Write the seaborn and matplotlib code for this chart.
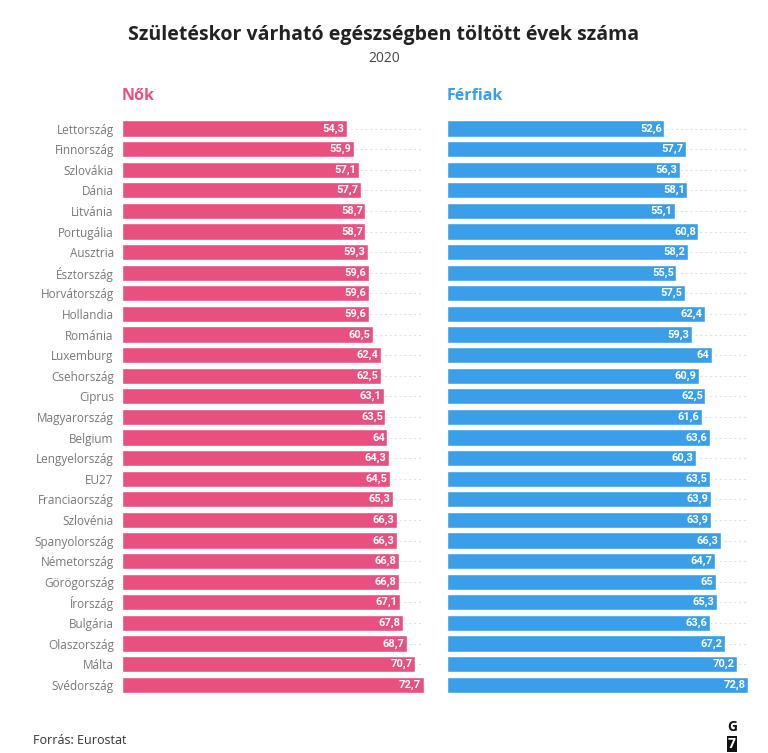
import matplotlib
matplotlib.use("Agg")
import matplotlib.pyplot as plt
import seaborn as sns
import pandas as pd

countries = ["Lettország","Finnország","Szlovákia","Dánia","Litvánia","Portugália","Ausztria",
             "Észtország","Horvátország","Hollandia","Románia","Luxemburg","Csehország","Ciprus",
             "Magyarország","Belgium","Lengyelország","EU27","Franciaország","Szlovénia",
             "Spanyolország","Németország","Görögország","Írország","Bulgária","Olaszország",
             "Málta","Svédország"]
women = [54.3,55.9,57.1,57.7,58.7,58.7,59.3,59.6,59.6,59.6,60.5,62.4,62.5,63.1,63.5,64,64.3,
         64.5,65.3,66.3,66.3,66.8,66.8,67.1,67.8,68.7,70.7,72.7]
men = [52.6,57.7,56.3,58.1,55.1,60.8,58.2,55.5,57.5,62.4,59.3,64,60.9,62.5,61.6,63.6,60.3,
       63.5,63.9,63.9,66.3,64.7,65,65.3,63.6,67.2,70.2,72.8]

df = pd.DataFrame({"country": countries, "women": women, "men": men})
sns.set_theme(style="white")
plt.rcParams['font.family'] = ['Open Sans', 'DejaVu Sans']

fig = plt.figure(figsize=(7.68, 7.53), dpi=100)
axL = fig.add_axes([0.159, 0.077, 0.393, 0.766])
axR = fig.add_axes([0.582, 0.077, 0.392, 0.766])

def fmt(v):
    s = f"{v:g}"
    return s.replace(".", ",")

for ax, col, color, name in [(axL, "women", "#E8507F", "Nők"), (axR, "men", "#3A9EE8", "Férfiak")]:
    sns.barplot(data=df, x=col, y="country", ax=ax, color=color, width=0.78, saturation=1, orient="h")
    ax.set_xlim(0, 72.8)
    ax.set_ylim(len(countries) - 0.5, -0.5)
    for i, v in enumerate(df[col]):
        ax.hlines(i, 0, 72.8, colors="#dddddd", linestyles=(0, (2, 3)), lw=0.7, zorder=0)
        ax.text(v - 0.6, i, fmt(v), ha="right", va="center", color="white",
                fontsize=8, fontweight="bold", family="Roboto", fontstretch="condensed")
    ax.set_xlabel(""); ax.set_ylabel("")
    ax.set_xticks([])
    for s in ax.spines.values():
        s.set_visible(False)
    ax.text(0, -1.2, name, color=color, fontsize=11.5, fontweight="bold", ha="left", va="bottom")

axL.tick_params(axis="y", length=3, color="#cccccc", labelsize=8.5, labelcolor="#777777", pad=3)
axR.set_yticks([])

fig.text(0.5, 0.953, "Születéskor várható egészségben töltött évek száma", ha="center", va="center",
         fontsize=14, fontweight="bold", color="#222222")
fig.text(0.5, 0.922, "2020", ha="center", va="center", fontsize=10, color="#444444")
fig.text(0.043, 0.016, "Forrás: Eurostat", ha="left", va="center", fontsize=9, color="#333333")
fig.text(0.953, 0.035, "G", ha="center", va="center", fontsize=10, fontweight="bold", color="#111111")
fig.text(0.953, 0.012, "7", ha="center", va="center", fontsize=10, fontweight="bold", color="white",
         bbox=dict(boxstyle="square,pad=0.1", fc="#111111", ec="none"))
fig.savefig("out.png", dpi=100)
